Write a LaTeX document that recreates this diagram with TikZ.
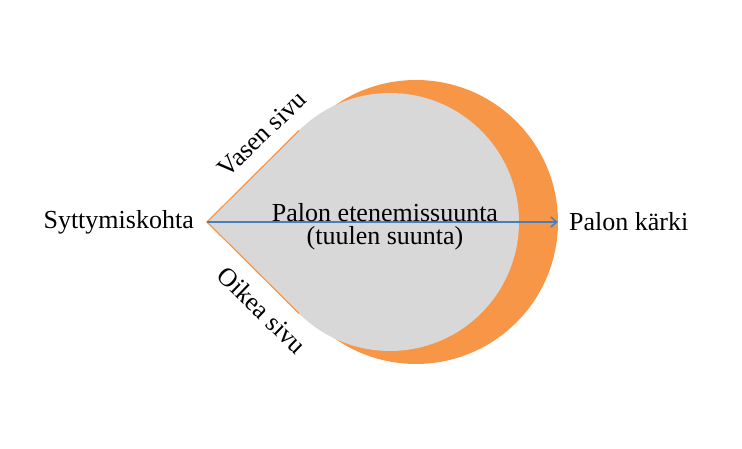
\documentclass[tikz,border=0pt]{standalone}
\usepackage{fontspec}
\setmainfont{Liberation Serif}
\usetikzlibrary{calc,arrows.meta}
\begin{document}
\begin{tikzpicture}[x=1pt,y=1pt,
  lbl/.style={font=\fontsize{26}{30}\selectfont, inner sep=1pt}]
\useasboundingbox (0,0) rectangle (742,449);
\definecolor{fireor}{RGB}{247,150,70}
\definecolor{burngray}{RGB}{216,216,216}
\definecolor{arrowblue}{RGB}{74,126,187}
\coordinate (tip) at (207,227);
\coordinate (oc) at (416,227);
\coordinate (gc) at (390,227);
\fill[fireor] (tip) -- ($(oc)+(132.8:142)$) arc[start angle=132.8,end angle=-132.8,radius=142] -- cycle;
\fill[burngray] (tip) -- ($(gc)+(134.8:129)$) arc[start angle=134.8,end angle=-134.8,radius=129] -- cycle;
\draw[fireor,line width=1.2pt] ($(gc)+(134.8:129)$) -- (tip) -- ($(gc)+(-134.8:129)$);
\coordinate (head) at (558,227);
\draw[arrowblue,line width=1.5pt,-{Straight Barb[length=6pt,width=10pt]}] (tip) -- (head);
\node[lbl,anchor=south] (t1) at (385,226) {Palon etenemissuunta};
\node[lbl,anchor=north] (t2) at (385,224) {(tuulen suunta)};
\node[lbl,anchor=east] (s) at (195,227) {Syttymiskohta};
\node[lbl,anchor=west] (k) at (568,227) {Palon kärki};
\node[lbl,rotate=44] (v) at (262,315) {Vasen sivu};
\node[lbl,rotate=-44] (o) at (262,139) {Oikea sivu};
\end{tikzpicture}
\end{document}
